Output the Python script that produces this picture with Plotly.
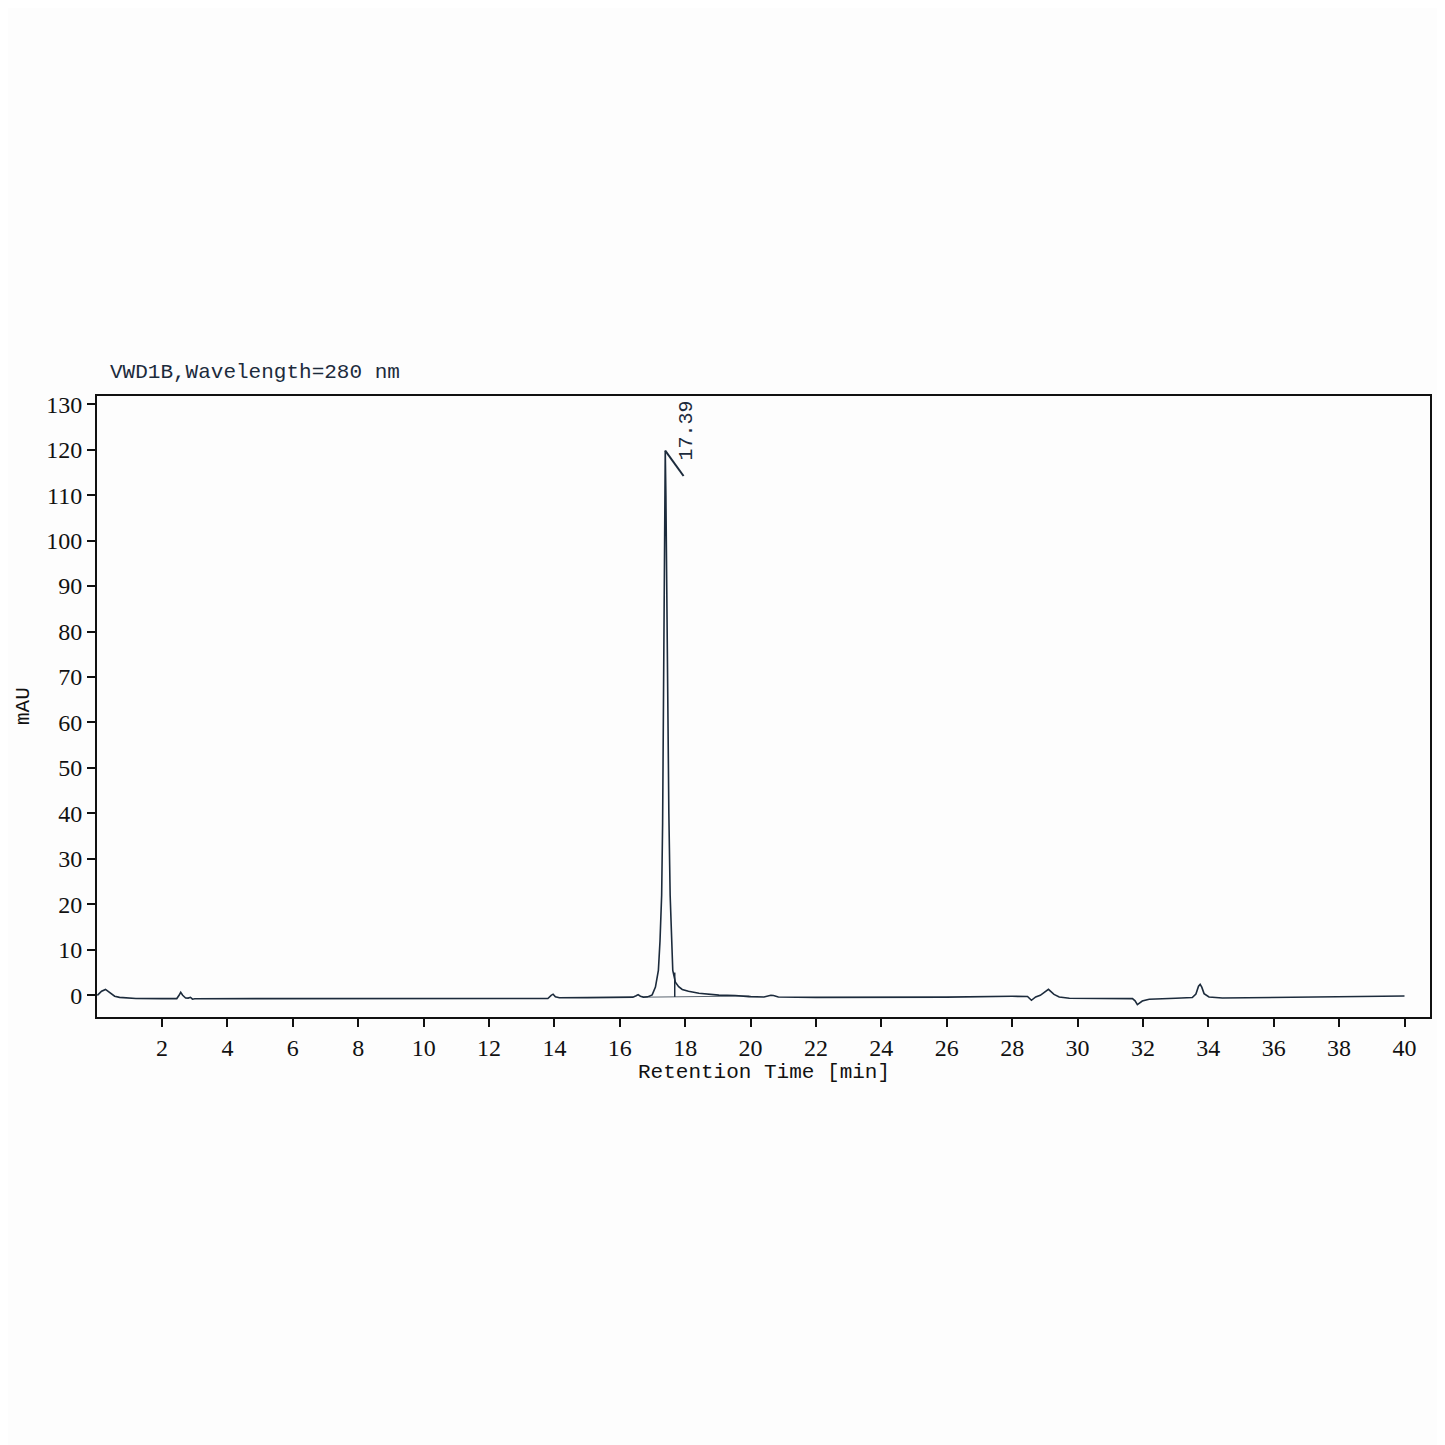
import plotly.graph_objects as go

# ---- data ----
time_min = [0.02, 0.15, 0.27, 0.40, 0.55, 0.70, 0.9, 1.2, 2.0, 2.45, 2.52, 2.57, 2.63, 2.72, 2.80,
            2.87, 2.93, 3.0, 5.0, 8.0, 10.0, 12.0, 13.6, 13.80, 13.90, 13.96, 14.03, 14.15, 15.0,
            16.0, 16.40, 16.50, 16.56, 16.63, 16.72, 16.85, 16.99, 17.09, 17.18, 17.23, 17.28,
            17.31, 17.34, 17.36, 17.375, 17.39, 17.41, 17.43, 17.46, 17.50, 17.54, 17.58, 17.62,
            17.70, 17.80, 17.91, 18.10, 18.42, 18.52, 19.03, 19.53, 19.95, 20.41, 20.55, 20.62,
            20.70, 20.85, 22.0, 24.64, 26.0, 28.0, 28.47, 28.59, 28.72, 28.86, 29.0, 29.11, 29.28,
            29.44, 29.75, 30.5, 31.68, 31.76, 31.83, 31.98, 32.19, 33.0, 33.51, 33.62, 33.70,
            33.75, 33.80, 33.87, 34.02, 34.43, 36.0, 38.0, 40.0]
signal_mau = [0.0, 0.9, 1.3, 0.6, -0.2, -0.45, -0.6, -0.7, -0.72, -0.72, 0.0, 0.65, 0.0, -0.6, -0.62,
              -0.45, -0.85, -0.75, -0.72, -0.72, -0.75, -0.75, -0.75, -0.7, 0.0, 0.25, -0.3, -0.55, -0.5,
              -0.45, -0.4, -0.1, 0.15, -0.2, -0.4, -0.35, 0.1, 1.8, 5.5, 12, 22,
              38, 62, 88, 108, 119.8, 110, 92, 66, 40, 22, 12, 5.5,
              2.9, 1.9, 1.3, 0.9, 0.44, 0.37, 0.05, -0.05, -0.3, -0.37, -0.05, 0.0,
              -0.05, -0.37, -0.45, -0.5, -0.4, -0.22, -0.25, -1.1, -0.37, 0.0, 0.8, 1.3, 0.2,
              -0.37, -0.66, -0.73, -0.73, -1.2, -2.05, -1.25, -0.88, -0.65, -0.5, 0.3, 2.0,
              2.4, 1.8, 0.37, -0.37, -0.6, -0.5, -0.35, -0.15]

# integration marks for the main peak
peak_rt = [17.39]
peak_height = [119.8]
peak_label = ["17.39"]
marker_t = [17.39, 17.95]
marker_s = [119.8, 114.2]
baseline_t = [16.88, 20.0]
baseline_s = [-0.4, -0.15]
drop_t = [17.68, 17.68]
drop_s = [-0.35, 5.0]

x_ticks = list(range(2, 41, 2))
y_ticks = list(range(0, 131, 10))

line_col = "#1c2b3c"
mono = "Liberation Mono"
serif = "Liberation Serif"

fig = go.Figure()
fig.add_trace(go.Scatter(x=baseline_t, y=baseline_s, mode="lines",
                         line=dict(color="#5a6570", width=1), hoverinfo="skip"))
fig.add_trace(go.Scatter(x=drop_t, y=drop_s, mode="lines",
                         line=dict(color=line_col, width=1.5), hoverinfo="skip"))
fig.add_trace(go.Scatter(x=time_min, y=signal_mau, mode="lines",
                         line=dict(color=line_col, width=1.6)))
fig.add_trace(go.Scatter(x=marker_t, y=marker_s, mode="lines",
                         line=dict(color=line_col, width=2), hoverinfo="skip"))

for rt, h, lab in zip(peak_rt, peak_height, peak_label):
    fig.add_annotation(x=rt + 0.62, y=h + 4.3, text=lab, textangle=-90, showarrow=False,
                       xanchor="center", yanchor="middle",
                       font=dict(family=mono, size=20, color=line_col))

fig.add_annotation(xref="paper", yref="paper", x=0.0083, y=1.0386,
                   text="VWD1B,Wavelength=280 nm", showarrow=False,
                   xanchor="left", yanchor="middle",
                   font=dict(family=mono, size=21, color=line_col))
fig.add_annotation(xref="paper", yref="paper", x=0.5, y=-0.0886,
                   text="Retention Time [min]", showarrow=False,
                   xanchor="center", yanchor="middle",
                   font=dict(family=mono, size=21, color="#111111"))
fig.add_annotation(xref="paper", yref="paper", x=-0.0555, y=0.5008,
                   text="mAU", textangle=-90, showarrow=False,
                   xanchor="center", yanchor="middle",
                   font=dict(family=mono, size=21, color="#111111"))

fig.update_layout(
    width=1445, height=1445,
    margin=dict(l=89, r=23, t=388, b=436),
    paper_bgcolor="#fdfdfd", plot_bgcolor="#fdfdfd",
    showlegend=False,
)
fig.update_xaxes(range=[0.01, 40.78], tickvals=x_ticks, ticktext=[str(v) for v in x_ticks],
                 ticks="outside", ticklen=8, tickwidth=2, tickcolor="#111111",
                 showline=True, linecolor="#111111", linewidth=2, mirror=True,
                 showgrid=False, zeroline=False,
                 tickfont=dict(family=serif, size=24, color="#111111"))
fig.update_yaxes(range=[-4.77, 131.8], tickvals=y_ticks, ticktext=[str(v) for v in y_ticks],
                 ticks="outside", ticklen=8, tickwidth=2, tickcolor="#111111",
                 showline=True, linecolor="#111111", linewidth=2, mirror=True,
                 showgrid=False, zeroline=False,
                 tickfont=dict(family=serif, size=24, color="#111111"))

fig.write_html("out.html")
